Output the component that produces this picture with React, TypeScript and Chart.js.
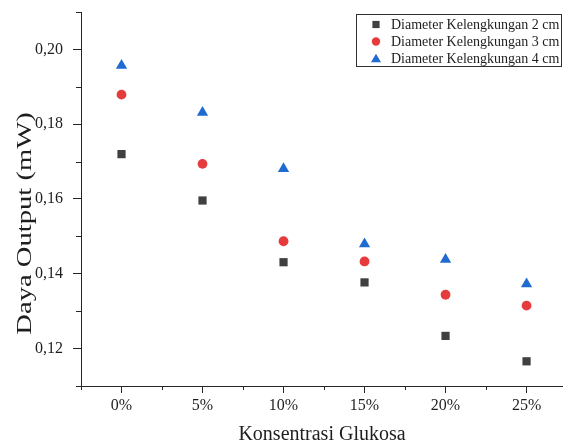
import React, { useEffect, useRef } from 'react';
import { Chart, registerables } from 'chart.js';
Chart.register(...registerables);

const categories = ['0%', '5%', '10%', '15%', '20%', '25%'];
const seriesNames = ['Diameter Kelengkungan 2 cm', 'Diameter Kelengkungan 3 cm', 'Diameter Kelengkungan 4 cm'];
const d2cm = [0.172, 0.1596, 0.1431, 0.1377, 0.1234, 0.1166];
const d3cm = [0.1879, 0.1694, 0.1487, 0.1433, 0.1344, 0.1315];
const d4cm = [0.1957, 0.1831, 0.1681, 0.148, 0.1438, 0.1373];
const yMajorTicks = [0.12, 0.14, 0.16, 0.18, 0.2];
const yMinorTicks = [0.11, 0.13, 0.15, 0.17, 0.19, 0.21];
const xMinorTicks = [-0.5, 0.5, 1.5, 2.5, 3.5, 4.5];

const FONT = "'Liberation Serif', 'Times New Roman', serif";
const AXIS = '#262626';
const TEXT = '#1e1e1e';
const COLORS = ['#404040', '#e63b3d', '#1f6bd0'];
const STYLES = ['rect', 'circle', 'triangle'];
const RADII = [5.8, 4.9, 6.5];

const minorTicks = {
  id: 'minorTicks',
  afterDraw(chart: any) {
    const { ctx, chartArea } = chart;
    const x = chart.scales.x;
    const y = chart.scales.y;
    ctx.save();
    ctx.strokeStyle = AXIS;
    ctx.lineWidth = 1;
    ctx.beginPath();
    xMinorTicks.forEach((v) => {
      const px = Math.round(x.getPixelForValue(v)) + 0.5;
      ctx.moveTo(px, chartArea.bottom);
      ctx.lineTo(px, chartArea.bottom + 4);
    });
    yMinorTicks.forEach((v) => {
      const py = Math.round(y.getPixelForValue(v)) + 0.5;
      ctx.moveTo(chartArea.left - 5, py);
      ctx.lineTo(chartArea.left, py);
    });
    ctx.stroke();
    ctx.restore();
  },
};

const yTitle = {
  id: 'yTitle',
  afterDraw(chart: any) {
    const { ctx } = chart;
    ctx.save();
    ctx.translate(31, 223.5);
    ctx.rotate(-Math.PI / 2);
    ctx.scale(1.43, 1);
    ctx.font = `20px ${FONT}`;
    ctx.fillStyle = TEXT;
    ctx.textAlign = 'center';
    ctx.textBaseline = 'alphabetic';
    ctx.fillText('Daya Output (mW)', 0, 0);
    ctx.restore();
  },
};

function drawMarker(ctx: CanvasRenderingContext2D, style: string, cx: number, cy: number, color: string) {
  ctx.fillStyle = color;
  ctx.beginPath();
  if (style === 'rect') {
    ctx.rect(cx - 3.6, cy - 3.6, 7.2, 7.2);
  } else if (style === 'circle') {
    ctx.arc(cx, cy, 4.2, 0, Math.PI * 2);
  } else {
    const r = 5.6;
    ctx.moveTo(cx, cy - r * 0.85);
    ctx.lineTo(cx + r * 0.9, cy + r * 0.65);
    ctx.lineTo(cx - r * 0.9, cy + r * 0.65);
    ctx.closePath();
  }
  ctx.fill();
}

const legendBox = {
  id: 'legendBox',
  afterDraw(chart: any) {
    const { ctx } = chart;
    ctx.save();
    ctx.fillStyle = '#ffffff';
    ctx.fillRect(356, 14, 206, 53);
    ctx.strokeStyle = '#303030';
    ctx.lineWidth = 1;
    ctx.strokeRect(356.5, 14.5, 205, 52);
    const rows = [24.5, 41.5, 58.5];
    ctx.font = `14px ${FONT}`;
    ctx.textAlign = 'left';
    ctx.textBaseline = 'middle';
    seriesNames.forEach((name, i) => {
      drawMarker(ctx, STYLES[i], 376, rows[i], COLORS[i]);
      ctx.fillStyle = TEXT;
      ctx.fillText(name, 391, rows[i] + 0.5);
    });
    ctx.restore();
  },
};

const allSeries = [d2cm, d3cm, d4cm];

export default function App() {
  const ref = useRef<HTMLCanvasElement>(null);
  useEffect(() => {
    const datasets = allSeries.map((vals, si) => ({
      label: seriesNames[si],
      data: categories.map((_, i) => ({ x: i, y: vals[i] })),
      pointStyle: STYLES[si],
      pointRadius: RADII[si],
      pointHoverRadius: RADII[si],
      backgroundColor: COLORS[si],
      borderColor: COLORS[si],
      borderWidth: 0,
      showLine: false,
    }));
    const chart = new Chart(ref.current as HTMLCanvasElement, {
      type: 'scatter',
      data: { datasets } as any,
      options: {
        responsive: false,
        animation: false,
        layout: { autoPadding: false, padding: { top: 12, left: 0, right: 0, bottom: 0 } },
        plugins: { legend: { display: false }, tooltip: { enabled: false } },
        scales: {
          x: {
            type: 'linear',
            min: -0.5,
            max: 5.45,
            afterBuildTicks: (s: any) => {
              s.ticks = categories.map((_, i) => ({ value: i }));
            },
            afterFit: (s: any) => {
              s.height = 59;
              s.paddingLeft = 0;
              s.paddingRight = 0;
              s.paddingTop = 0;
              s.paddingBottom = 0;
            },
            grid: { drawOnChartArea: false, tickLength: 7, color: AXIS, lineWidth: 1 },
            border: { display: true, color: AXIS, width: 1 },
            ticks: {
              font: { family: FONT, size: 16 },
              color: TEXT,
              padding: 3,
              maxRotation: 0,
              autoSkip: false,
              callback: (v: any) => categories[Number(v)] ?? '',
            },
            title: {
              display: true,
              text: 'Konsentrasi Glukosa',
              font: { family: FONT, size: 20, lineHeight: 1 },
              color: TEXT,
              padding: { top: 0, bottom: 0 },
            },
          },
          y: {
            type: 'linear',
            min: 0.11,
            max: 0.21,
            afterBuildTicks: (s: any) => {
              s.ticks = yMajorTicks.map((v) => ({ value: v }));
            },
            afterFit: (s: any) => {
              s.width = 81;
              s.paddingLeft = 0;
              s.paddingRight = 0;
              s.paddingTop = 0;
              s.paddingBottom = 0;
            },
            grid: { drawOnChartArea: false, tickLength: 8, color: AXIS, lineWidth: 1 },
            border: { display: true, color: AXIS, width: 1 },
            ticks: {
              font: { family: FONT, size: 16 },
              color: TEXT,
              padding: 10,
              callback: (v: any) => Number(v).toFixed(2).replace('.', ','),
            },
          },
        },
      } as any,
      plugins: [minorTicks, yTitle, legendBox],
    });
    return () => chart.destroy();
  }, []);
  return (
    <div style={{ position: 'fixed', left: 0, top: 0, width: 563, height: 445, background: '#fff' }}>
      <canvas ref={ref} width={563} height={445} style={{ display: 'block' }} />
    </div>
  );
}
